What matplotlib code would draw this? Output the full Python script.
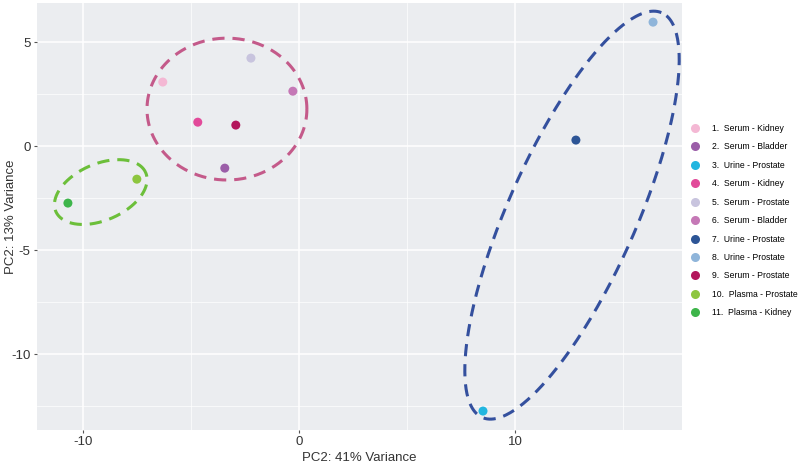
import numpy as np
import matplotlib
matplotlib.use('agg')
import matplotlib.pyplot as plt
from matplotlib.lines import Line2D

plt.rcParams['font.family'] = ['Liberation Sans', 'DejaVu Sans']
plt.rcParams['axes.unicode_minus'] = False

# sample scores
labels = ['1.  Serum - Kidney', '2.  Serum - Bladder', '3.  Urine - Prostate',
          '4.  Serum - Kidney', '5.  Serum - Prostate', '6.  Serum - Bladder',
          '7.  Urine - Prostate', '8.  Urine - Prostate', '9.  Serum - Prostate',
          '10.  Plasma - Prostate', '11.  Plasma - Kidney']
pc1 = [-6.3, -3.43, 8.52, -4.68, -2.22, -0.28, 12.82, 16.39, -2.92, -7.5, -10.69]
pc2 = [3.08, -1.06, -12.74, 1.15, 4.23, 2.64, 0.29, 5.96, 1.01, -1.59, -2.74]
colors = ['#f4b8d4', '#9b5ea8', '#22b6e0', '#e24a9a', '#c8c4de', '#c578b6',
          '#2d5596', '#8fb5da', '#b3165c', '#8dc63f', '#3db54a']

# group outlines: centre x, centre y, semi-axis a, semi-axis b, angle (deg), colour
ellipses = [
    (-3.33, 1.78, 3.70, 3.41, 0, '#c45a8a'),
    (-9.17, -2.21, 2.28, 1.35, 25, '#6cbf3a'),
    (12.64, -3.32, 10.58, 2.98, 67, '#34509e'),
]

fig = plt.figure(figsize=(8, 4.65), dpi=100)
ax = fig.add_axes([0.046, 0.0753, 0.8065, 0.918])
ax.set_facecolor('#ebedf0')
for s in ax.spines.values():
    s.set_visible(False)

ax.set_xlim(-12.13, 17.73)
ax.set_ylim(-13.65, 6.875)
ax.set_xticks([-10, 0, 10])
ax.set_yticks([-10, -5, 0, 5])
ax.set_xticks([-5, 5, 15], minor=True)
ax.set_yticks([-12.5, -7.5, -2.5, 2.5], minor=True)
ax.grid(True, which='major', color='white', lw=1.1)
ax.grid(True, which='minor', color='white', lw=0.5)
ax.set_axisbelow(True)
ax.tick_params(which='major', length=2.5, color='#555555', labelsize=9.5,
               labelcolor='#333333', pad=2)
ax.tick_params(which='minor', length=0)

t = np.linspace(0, 2 * np.pi, 400)
for cx, cy, a, b, ang, col in ellipses:
    th = np.radians(ang)
    ex = cx + a * np.cos(t) * np.cos(th) - b * np.sin(t) * np.sin(th)
    ey = cy + a * np.cos(t) * np.sin(th) + b * np.sin(t) * np.cos(th)
    ax.plot(ex, ey, color=col, lw=2.2, dashes=(4, 2.6), zorder=2)

for x, y, c in zip(pc1, pc2, colors):
    ax.scatter(x, y, s=42, color=c, edgecolors='none', zorder=3)

ax.set_xlabel('PC2: 41% Variance', fontsize=9.5, color='#333333', labelpad=3)
ax.set_ylabel('PC2: 13% Variance', fontsize=9.5, color='#333333')
ax.yaxis.set_label_coords(-0.030, 0.5)

handles = [Line2D([], [], marker='o', ls='none', ms=6.5, mfc=c, mec='none')
           for c in colors]
fig.legend(handles, labels, loc='upper left', bbox_to_anchor=(0.8634, 0.734),
           frameon=False, labelspacing=1.1, handletextpad=1.5,
           handlelength=1.0, borderpad=0, borderaxespad=0, fontsize=6.2)

fig.savefig('out.png', dpi=100)
